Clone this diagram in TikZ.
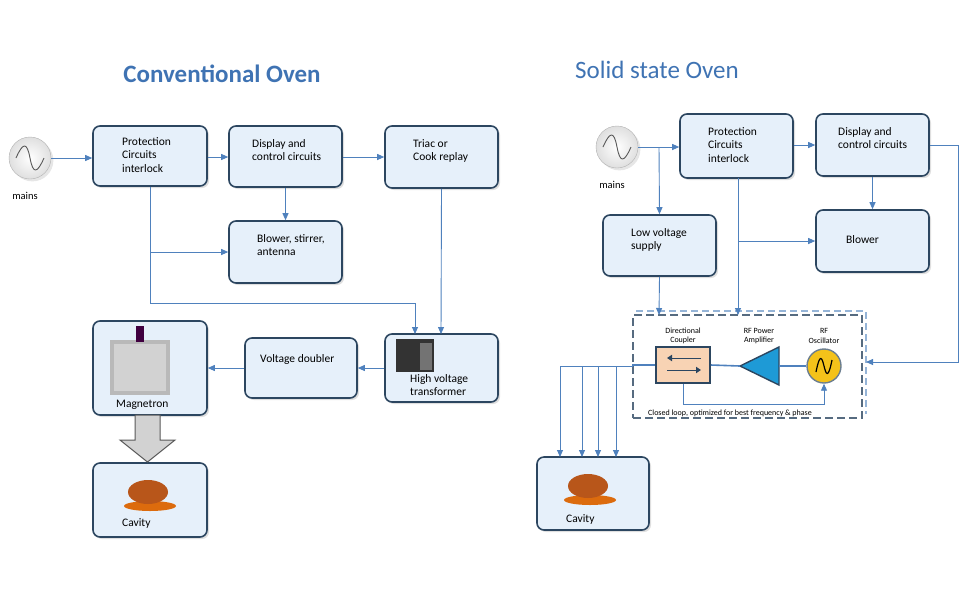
\documentclass[tikz,border=0pt]{standalone}
\usepackage{fontspec}
\setmainfont{Carlito}
\usetikzlibrary{arrows.meta,calc,positioning,shadows}
\definecolor{linkblue}{HTML}{4F81BD}
\definecolor{edgeblue}{HTML}{2C4660}
\definecolor{boxfill}{HTML}{E6F0FA}
\definecolor{titleblue}{HTML}{3F73B3}
\definecolor{peach}{HTML}{F8D3B4}
\definecolor{ampblue}{HTML}{1E9AD6}
\definecolor{oscyellow}{HTML}{F4C21A}
\definecolor{roast}{HTML}{B8561A}
\begin{document}
\begin{tikzpicture}[x=1pt,y=-1pt,
      block/.style={draw=edgeblue, line width=1.6pt, fill=boxfill, rounded corners=7pt,
        drop shadow={shadow xshift=2pt, shadow yshift=-2pt, opacity=0.25}},
      label/.style={anchor=north west, align=left, font=\fontsize{11.5}{13.5}\selectfont, inner sep=0pt},
      small/.style={align=center, font=\fontsize{8}{9.5}\selectfont, inner sep=0pt},
      link/.style={draw=linkblue, line width=0.9pt, -{Triangle[length=7pt,width=6pt]}},
      wire/.style={draw=linkblue, line width=0.9pt},
      title/.style={text=titleblue, font=\fontsize{25}{28}\selectfont}
      ]
      \useasboundingbox (0,0) rectangle (960,590);

      % titles
      \node[title, font=\bfseries\fontsize{25}{28}\selectfont] (tConv) at (222,74) {Conventional Oven};
      \node[title] (tSolid) at (657,70) {Solid state Oven};

      % conventional oven
      \node[circle, draw=gray!60, minimum size=42pt, inner sep=0pt, shading=radial,
        inner color=white, outer color=gray!25, drop shadow={opacity=0.2}] (mainsA) at (30,158) {};
      \draw[gray!70!black, line width=0.9pt] (16,158) .. controls (23,142) and (27,142) .. (30,158)
        .. controls (33,174) and (37,174) .. (44,158);
      \node[font=\fontsize{10.5}{12}\selectfont] (mainsAtxt) at (25,196) {mains};

      \node[block, minimum width=114pt, minimum height=60pt] (protA) at (150,156) {};
      \node[label] at (122,137) {Protection\\Circuits\\interlock};
      \node[block, minimum width=113pt, minimum height=61pt] (dispA) at (285.5,156.5) {};
      \node[label] at (252,139) {Display and\\control circuits};
      \node[block, minimum width=113pt, minimum height=62pt] (triac) at (441.5,157) {};
      \node[label] at (413,139) {Triac or\\Cook replay};
      \node[block, minimum width=113pt, minimum height=62pt] (blowA) at (285.5,252) {};
      \node[label] at (257,234) {Blower, stirrer,\\antenna};
      \node[block, minimum width=113pt, minimum height=68pt] (hvt) at (441.5,368) {};
      \fill[black!80] (396,339) rectangle (434,372);
      \fill[black!55] (420,343) rectangle (432,370);
      \node[label] at (410,374) {High voltage\\transformer};
      \node[block, minimum width=112pt, minimum height=60pt] (vdbl) at (301,368) {};
      \node[label] at (260,354) {Voltage doubler};
      \node[block, minimum width=114pt, minimum height=94pt] (magn) at (150,368) {};
      \fill[gray!55] (110,340) rectangle (170,395);
      \fill[gray!35] (114,344) rectangle (166,391);
      \fill[violet!50!black] (136,326) rectangle (144,342);
      \node[label] at (116,400) {Magnetron};
      \node[block, minimum width=114pt, minimum height=74pt] (cavA) at (150,500) {};
      \fill[roast!50!orange] (150,506) ellipse (26pt and 5pt);
      \fill[roast] (148,492) ellipse (20pt and 12pt);
      \node[label] at (122,518) {Cavity};

      \path[link] (mainsA) -- (protA.west |- mainsA);
      \path[link] (protA.east |- 0,157) -- (dispA.west |- 0,157);
      \path[link] (dispA.east |- 0,157) -- (triac.west |- 0,157);
      \path[link] (dispA) -- (blowA);
      \coordinate (jA) at (150,252);
      \path[wire] (protA.south) -- (jA);
      \path[link] (jA) -- (blowA.west);
      \path[link] (jA) |- (415,303) -- (415,334);
      \path[link] (triac.south) -- (441,334);
      \path[link] (hvt.west) -- (vdbl.east);
      \path[link] (vdbl.west) -- (magn.east);
      % power to the cavity
      \draw[gray!70!black, fill=gray!35, line width=1pt]
        (135,415) -- (160,415) -- (160,440) -- (175,440) -- (147.5,462) -- (120,440) -- (135,440) -- cycle;

      % solid state oven
      \node[circle, draw=gray!60, minimum size=42pt, inner sep=0pt, shading=radial,
        inner color=white, outer color=gray!25, drop shadow={opacity=0.2}] (mainsB) at (617,147) {};
      \draw[gray!70!black, line width=0.9pt] (603,147) .. controls (610,131) and (614,131) .. (617,147)
        .. controls (620,163) and (624,163) .. (631,147);
      \node[font=\fontsize{10.5}{12}\selectfont] (mainsBtxt) at (612,185) {mains};

      \node[block, minimum width=113pt, minimum height=64pt] (protB) at (736.5,146) {};
      \node[label] at (708,127) {Protection\\Circuits\\interlock};
      \node[block, minimum width=113pt, minimum height=62pt] (dispB) at (872.5,145) {};
      \node[label] at (838,127) {Display and\\control circuits};
      \node[block, minimum width=113pt, minimum height=61pt] (lowv) at (659.5,245.5) {};
      \node[label] at (631,228) {Low voltage\\supply};
      \node[block, minimum width=113pt, minimum height=62pt] (blowB) at (872.5,241) {};
      \node[label] at (846,235) {Blower};
      \node[block, minimum width=112pt, minimum height=73pt] (cavB) at (593,493.5) {};
      \fill[roast!50!orange] (590,500) ellipse (26pt and 5pt);
      \fill[roast] (588,486) ellipse (20pt and 12pt);
      \node[label] at (566,514) {Cavity};

      % rf module
      \draw[linkblue!60, dashed, line width=1.2pt, dash pattern=on 7pt off 4pt] (636,311) -- (866,311) -- (866,414);
      \node[draw=edgeblue!80, dashed, line width=1.6pt, dash pattern=on 8pt off 4pt,
        minimum width=229pt, minimum height=103pt] (rf) at (747.5,366.5) {};
      \node[draw=edgeblue, line width=1.6pt, fill=peach, minimum width=54pt, minimum height=36pt] (coupler) at (683,365) {};
      \draw[-{Triangle[length=5pt]}, edgeblue, line width=1pt] (701,358) -- (667,358);
      \draw[-{Triangle[length=5pt]}, edgeblue, line width=1pt] (667,370) -- (701,370);
      \draw[edgeblue, line width=1.4pt, fill=ampblue] (740,366) -- (779,347) -- (779,385) -- cycle;
      \node[circle, draw=edgeblue!70, line width=1.4pt, fill=oscyellow, minimum size=34pt] (osc) at (824,366) {};
      \draw[black, line width=1.2pt] (816,372) .. controls (820,352) and (822,358) .. (824,366)
        .. controls (826,374) and (828,380) .. (832,360);
      \node[small] at (683,336) {Directional\\Coupler};
      \node[small] at (759,336) {RF Power\\Amplifier};
      \node[small] at (824,336) {RF\\Oscillator};
      \node[small] at (730,413) {Closed loop, optimized for best frequency \& phase};
      \path[wire, line width=1.6pt] (rf.west |- coupler) -- (coupler.west);
      \path[wire, line width=1.6pt] (coupler.east) -- (740,366);
      \path[wire, line width=1.6pt] (779,366) -- (osc.west);
      \path[link] (coupler.south) |- (824,404) -- (osc.south);
      \coordinate (split) at (633,366);
      \path[wire] (split) -- (560,366);
      \foreach \x in {560,582,598,616}
        \path[link] (\x,366) -- (\x,457);

      \path[link] (mainsB) -- (protB.west |- mainsB);
      \path[link] (protB.east |- 0,145) -- (dispB.west |- 0,145);
      \path[link] (659,147) -- (lowv.north);
      \path[link] (lowv.south) -- (659,315);
      \path[link] (738,178) -- (738,315);
      \path[link] (738,241) -- (blowB.west);
      \path[link] (dispB) -- (blowB);
      \path[link] (dispB.east) -- (958,145) -- (958,362) -- (866,362);
\end{tikzpicture}
\end{document}
